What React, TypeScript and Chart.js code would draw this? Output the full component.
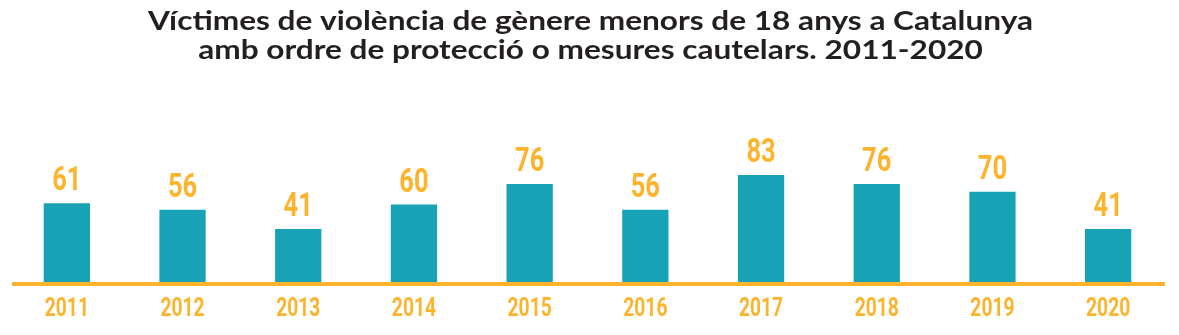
import React, { useEffect, useRef } from "react";
import { Chart, registerables } from "chart.js";

Chart.register(...registerables);

const years = ["2011", "2012", "2013", "2014", "2015", "2016", "2017", "2018", "2019", "2020"];
const victims = [61, 56, 41, 60, 76, 56, 83, 76, 70, 41];
const titleLines = [
  "Víctimes de violència de gènere menors de 18 anys a Catalunya",
  "amb ordre de protecció o mesures cautelars. 2011-2020",
];

const BAR = "#18a2b5";
const ORANGE = "#fdb42c";
const COND = "Roboto, sans-serif";

function drawScaled(ctx: any, text: string, x: number, y: number, sx: number) {
  ctx.save();
  ctx.translate(x, y);
  ctx.scale(sx, 1);
  ctx.fillText(text, 0, 0);
  ctx.restore();
}

const labelsPlugin = {
  id: "valueLabels",
  afterDraw(chart: any) {
    const { ctx, chartArea } = chart;
    const meta = chart.getDatasetMeta(0);
    const xs = chart.scales.x;
    ctx.save();
    // title
    ctx.fillStyle = "#231f20";
    ctx.font = "bold 27px Lato, sans-serif";
    ctx.textAlign = "center";
    ctx.textBaseline = "alphabetic";
    drawScaled(ctx, titleLines[0], chart.width / 2 + 1, 30, 1.17);
    drawScaled(ctx, titleLines[1], chart.width / 2 + 1, 59, 1.17);
    // axis line
    ctx.fillStyle = ORANGE;
    ctx.fillRect(chartArea.left + 3, chartArea.bottom, chartArea.right - chartArea.left - 4, 4);
    // value labels
    ctx.font = `bold 34px ${COND}`;
    meta.data.forEach((bar: any, i: number) => {
      drawScaled(ctx, String(victims[i]), bar.x, bar.y - 13, 0.75);
    });
    // category labels from the x scale
    ctx.font = `bold 25px ${COND}`;
    xs.ticks.forEach((t: any, i: number) => {
      drawScaled(ctx, xs.getLabelForValue(t.value), xs.getPixelForTick(i), 316, 0.77);
    });
    ctx.restore();
  },
};

export default function App() {
  const ref = useRef<HTMLCanvasElement>(null);
  useEffect(() => {
    document.body.style.margin = "0";
    const chart = new Chart(ref.current!, {
      type: "bar",
      data: {
        labels: years,
        datasets: [
          {
            data: victims,
            backgroundColor: BAR,
            categoryPercentage: 1,
            barPercentage: 0.4,
          },
        ],
      },
      options: {
        animation: false,
        responsive: true,
        maintainAspectRatio: false,
        layout: { padding: { left: 9, right: 13, top: 153, bottom: 53 } },
        plugins: {
          legend: { display: false },
          tooltip: { enabled: false },
          title: { display: false },
        },
        scales: {
          x: {
            grid: { display: false, drawTicks: false },
            border: { display: false },
            ticks: { display: false },
          },
          y: {
            display: false,
            min: 0,
            max: 100,
          },
        },
      },
      plugins: [labelsPlugin],
    });
    return () => chart.destroy();
  }, []);
  return (
    <div style={{ position: "relative", width: "1179px", height: "335px" }}>
      <canvas ref={ref} />
    </div>
  );
}
